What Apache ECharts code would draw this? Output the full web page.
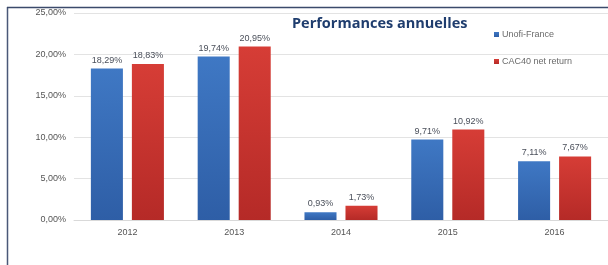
<!DOCTYPE html>
<html><head><meta charset="utf-8">
<script src="https://cdn.jsdelivr.net/npm/echarts@6/dist/echarts.min.js"></script>
<style>html,body{margin:0;padding:0;background:#fff}#c{width:608px;height:265px}</style>
</head><body><div id="c"></div>
<script>
const categories = ['2012','2013','2014','2015','2016'];
const unofi = [18.29, 19.74, 0.93, 9.71, 7.11];
const cac40 = [18.83, 20.95, 1.73, 10.92, 7.67];
const seriesNames = ['Unofi-France', 'CAC40 net return'];
const titleText = 'Performances annuelles';

const fmt = v => v.toFixed(2).replace('.', ',') + '%';
const chart = echarts.init(document.getElementById('c'));
const grad = (a, b) => new echarts.graphic.LinearGradient(0, 0, 0, 1, [{offset:0,color:a},{offset:1,color:b}]);
const lbl = {show:true, position:'top', distance:4, color:'#4a4f5a', fontSize:9, fontFamily:'Liberation Sans', formatter: p => fmt(p.value)};
chart.setOption({
  animation:false,
  backgroundColor:'#fff',
  title:{text:titleText, left:287, top:11, textStyle:{color:'#1f3d6e', fontSize:14.5, fontWeight:'bold', fontFamily:'Open Sans'}},
  legend:{orient:'vertical', left:489, top:25, itemWidth:5, itemHeight:5, itemGap:18, icon:'rect',
    textStyle:{color:'#6a6a6a', fontSize:9, fontFamily:'Liberation Sans', padding:[0,0,0,-2]}},
  grid:{left:74, right:-7, top:13, bottom:45},
  xAxis:{type:'category', data:categories, axisLine:{show:true, lineStyle:{color:'#d9d9d9'}}, axisTick:{show:false},
    axisLabel:{color:'#555', fontSize:9, fontFamily:'Liberation Sans', margin:8}},
  yAxis:{type:'value', min:0, max:25, interval:5, axisLine:{show:false}, axisTick:{show:false},
    splitLine:{lineStyle:{color:'#e3e3e3'}},
    axisLabel:{color:'#555', fontSize:9, fontFamily:'Liberation Sans', margin:8, formatter: v => fmt(v)}},
  series:[
    {name:seriesNames[0], type:'bar', data:unofi, barWidth:'30%', barGap:'28%', label:lbl,
      itemStyle:{color:grad('#3f78c4','#2e5ea6')}},
    {name:seriesNames[1], type:'bar', data:cac40, barWidth:'30%', label:lbl,
      itemStyle:{color:grad('#d63d36','#b52a27')}}
  ],
  color:['#3568b0','#c8302c'],
  graphic:[
    {type:'line', shape:{x1:7.5,y1:7,x2:7.5,y2:265}, style:{stroke:'#4a5878', lineWidth:1.5}},
    {type:'line', shape:{x1:7,y1:7.5,x2:608,y2:7.5}, style:{stroke:'#3b4a6b', lineWidth:1.5}}
  ]
});
</script></body></html>
